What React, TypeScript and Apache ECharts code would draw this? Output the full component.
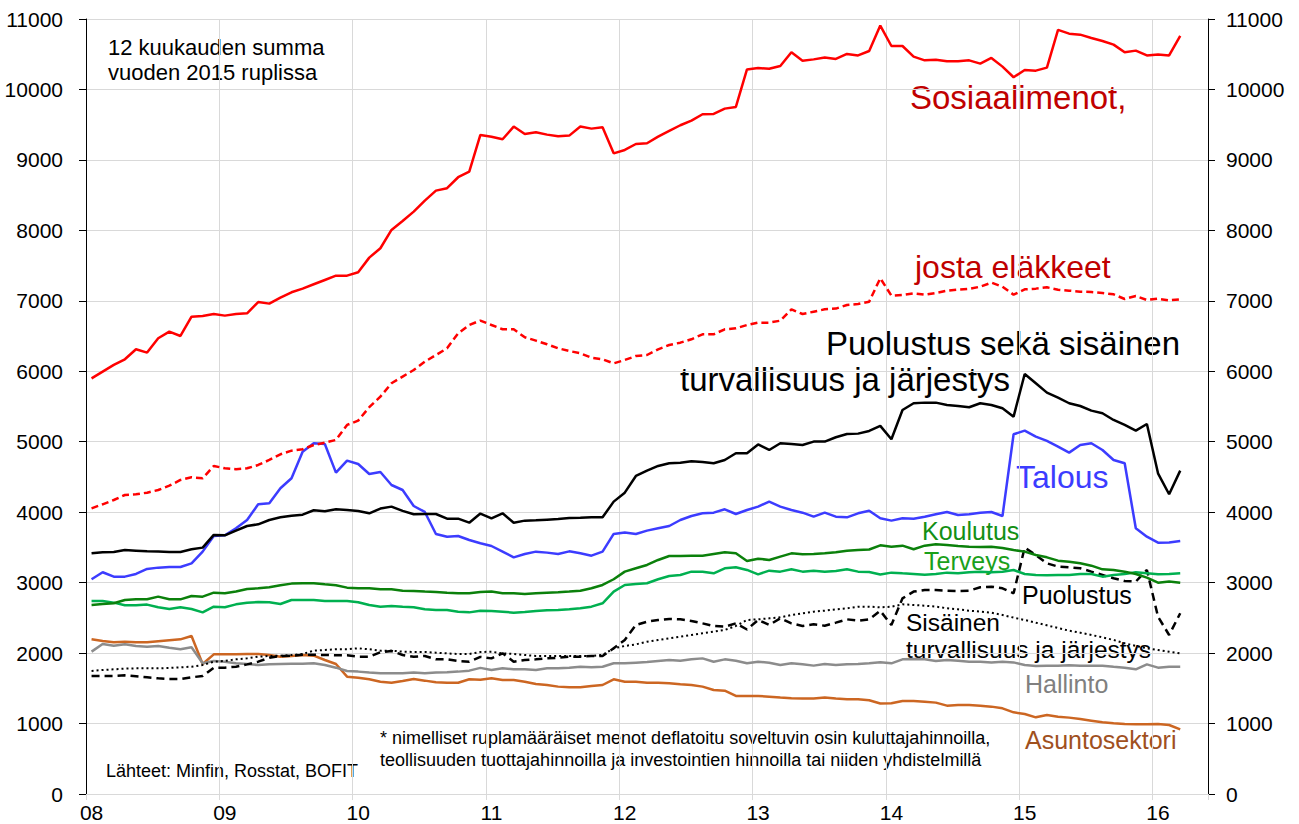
import React, { useEffect, useRef } from "react";
import * as echarts from "echarts";

// Months Jan 2008 .. May 2016 (axis), data through Mar 2016
const months: string[] = [];
for (let y = 2008; y <= 2016; y++) {
  for (let m = 1; m <= 12; m++) {
    if (y === 2016 && m > 5) break;
    months.push(`${y}-${m < 10 ? "0" + m : m}`);
  }
}

const sosiaalimenot = [
  5900, 5995, 6090, 6170, 6312, 6265, 6468, 6562, 6501, 6775, 6785, 6813,
  6790, 6813, 6823, 6983, 6960, 7045, 7121, 7173, 7235, 7296, 7357, 7357,
  7405, 7613, 7746, 8006, 8133, 8266, 8422, 8564, 8598, 8754, 8833, 9354,
  9330, 9293, 9473, 9368, 9392, 9359, 9335, 9345, 9473, 9444, 9463, 9093,
  9141, 9226, 9236, 9330, 9411, 9492, 9558, 9648, 9652, 9728, 9752, 10284,
  10303, 10294, 10332, 10527, 10409, 10427, 10455, 10433, 10504, 10483, 10546, 10906,
  10617, 10617, 10466, 10413, 10422, 10399, 10399, 10413, 10366, 10447, 10324, 10173,
  10277, 10267, 10310, 10845, 10792, 10778, 10731, 10688, 10636, 10527, 10551, 10483,
  10497, 10483, 10760,
];
const elakkeet = [
  4055, 4112, 4173, 4244, 4254, 4277, 4315, 4376, 4457, 4495, 4481, 4656,
  4623, 4609, 4623, 4670, 4741, 4822, 4873, 4893, 4954, 4986, 5025, 5238,
  5300, 5490, 5640, 5830, 5924, 6018, 6136, 6231, 6326, 6539, 6657, 6720,
  6657, 6596, 6596, 6482, 6435, 6383, 6326, 6288, 6255, 6193, 6170, 6113,
  6160, 6217, 6231, 6312, 6373, 6406, 6454, 6525, 6525, 6596, 6610, 6657,
  6690, 6690, 6718, 6879, 6813, 6846, 6879, 6890, 6941, 6955, 6988, 7320,
  7073, 7083, 7106, 7087, 7111, 7144, 7158, 7168, 7201, 7258, 7201, 7087,
  7163, 7173, 7192, 7158, 7144, 7130, 7125, 7111, 7092, 7026, 7068, 7012,
  7030, 7007, 7021,
];
const puolustusJaSisainen = [
  3417, 3432, 3436, 3463, 3454, 3445, 3441, 3436, 3436, 3474, 3497, 3677,
  3672, 3738, 3804, 3828, 3889, 3927, 3950, 3965, 4027, 4013, 4041, 4032,
  4018, 3984, 4051, 4079, 4018, 3970, 3974, 3974, 3908, 3908, 3851, 3980,
  3913, 3984, 3851, 3880, 3884, 3894, 3903, 3918, 3922, 3927, 3927, 4150,
  4277, 4514, 4590, 4656, 4694, 4703, 4722, 4713, 4694, 4741, 4836, 4836,
  4961, 4883, 4978, 4968, 4954, 5002, 5002, 5063, 5110, 5115, 5153, 5225,
  5035, 5451, 5546, 5555, 5555, 5522, 5508, 5489, 5546, 5522, 5475, 5356,
  5962, 5830, 5697, 5626, 5546, 5507, 5441, 5404, 5309, 5238, 5157, 5252,
  4552, 4254, 4590,
];
const talous = [
  3048, 3147, 3085, 3085, 3123, 3194, 3213, 3222, 3222, 3274, 3440, 3662,
  3672, 3771, 3889, 4112, 4126, 4339, 4481, 4859, 4978, 4968, 4561, 4732,
  4684, 4542, 4570, 4386, 4315, 4088, 4003, 3691, 3652, 3662, 3605, 3560,
  3520, 3440, 3359, 3407, 3440, 3426, 3407, 3444, 3416, 3383, 3440, 3691,
  3710, 3691, 3738, 3771, 3804, 3889, 3946, 3984, 3993, 4041, 3974, 4031,
  4079, 4150, 4079, 4031, 3993, 3936, 3993, 3936, 3927, 3984, 4020, 3913,
  3880, 3913, 3908, 3936, 3970, 4003, 3960, 3970, 3993, 4003, 3946, 5106,
  5157, 5073, 5011, 4931, 4845, 4954, 4978, 4883, 4741, 4694, 3771, 3652,
  3567, 3570, 3591,
];
const koulutus = [
  2683, 2697, 2707, 2754, 2763, 2763, 2801, 2763, 2763, 2811, 2801, 2858,
  2849, 2873, 2910, 2920, 2934, 2962, 2986, 2991, 2991, 2976, 2962, 2929,
  2920, 2920, 2905, 2905, 2886, 2882, 2873, 2868, 2858, 2849, 2849, 2868,
  2873, 2849, 2849, 2840, 2849, 2858, 2863, 2873, 2886, 2920, 2967, 3048,
  3156, 3204, 3251, 3322, 3378, 3378, 3383, 3383, 3407, 3431, 3416, 3307,
  3340, 3322, 3369, 3416, 3402, 3407, 3416, 3431, 3454, 3463, 3470, 3530,
  3511, 3525, 3474, 3525, 3544, 3535, 3520, 3511, 3506, 3511, 3492, 3463,
  3440, 3392, 3359, 3312, 3298, 3274, 3241, 3189, 3180, 3156, 3123, 3071,
  3000, 3015, 3000,
];
const terveys = [
  2740, 2740, 2716, 2678, 2678, 2688, 2650, 2626, 2650, 2626, 2578, 2659,
  2650, 2692, 2716, 2725, 2721, 2697, 2754, 2754, 2754, 2740, 2740, 2740,
  2721, 2683, 2659, 2669, 2659, 2650, 2621, 2612, 2612, 2588, 2578, 2600,
  2598, 2588, 2574, 2583, 2598, 2607, 2612, 2621, 2636, 2659, 2707, 2873,
  2967, 2981, 2991, 3048, 3094, 3109, 3156, 3156, 3132, 3204, 3218, 3180,
  3118, 3170, 3156, 3189, 3156, 3170, 3156, 3165, 3189, 3156, 3150, 3115,
  3142, 3132, 3123, 3113, 3123, 3142, 3132, 3146, 3156, 3146, 3156, 3180,
  3123, 3109, 3104, 3109, 3109, 3123, 3123, 3085, 3109, 3123, 3146, 3132,
  3118, 3123, 3132,
];
const puolustus = [
  1675, 1675, 1675, 1684, 1670, 1656, 1642, 1632, 1632, 1656, 1675, 1793,
  1793, 1807, 1840, 1878, 1934, 1959, 1963, 1977, 1977, 1973, 1968, 1968,
  1949, 1949, 2011, 2030, 1973, 1949, 1959, 1911, 1911, 1888, 1878, 1945,
  1925, 1996, 1878, 1902, 1911, 1925, 1934, 1949, 1949, 1959, 1959, 2068,
  2186, 2399, 2446, 2470, 2484, 2479, 2456, 2422, 2385, 2375, 2422, 2335,
  2470, 2399, 2493, 2422, 2385, 2408, 2389, 2432, 2479, 2460, 2480, 2600,
  2399, 2777, 2873, 2896, 2896, 2886, 2882, 2886, 2934, 2943, 2920, 2849,
  3497, 3392, 3274, 3228, 3218, 3204, 3156, 3109, 3062, 3023, 3015, 3180,
  2517, 2257, 2565,
];
const sisainen = [
  1746, 1760, 1770, 1779, 1784, 1784, 1784, 1789, 1798, 1807, 1831, 1878,
  1888, 1911, 1925, 1949, 1959, 1963, 1973, 1987, 2035, 2044, 2054, 2054,
  2068, 2054, 2035, 2035, 2020, 2016, 2016, 2006, 1996, 1987, 1987, 2015,
  2020, 1996, 1987, 1973, 1959, 1959, 1959, 1959, 1959, 1959, 1973, 2068,
  2101, 2124, 2162, 2186, 2210, 2233, 2257, 2281, 2304, 2328, 2385, 2470,
  2479, 2493, 2507, 2541, 2565, 2588, 2602, 2621, 2636, 2659, 2659, 2650,
  2659, 2692, 2683, 2673, 2659, 2636, 2621, 2602, 2588, 2574, 2541, 2503,
  2470, 2432, 2394, 2356, 2318, 2290, 2257, 2224, 2186, 2139, 2101, 2068,
  2044, 2020, 1996,
];
const hallinto = [
  2021, 2129, 2105, 2124, 2101, 2091, 2101, 2077, 2054, 2082, 1855, 1888,
  1878, 1855, 1845, 1831, 1840, 1845, 1850, 1850, 1855, 1831, 1793, 1746,
  1737, 1723, 1713, 1713, 1713, 1723, 1713, 1723, 1727, 1737, 1751, 1790,
  1760, 1784, 1770, 1770, 1760, 1784, 1784, 1793, 1807, 1798, 1807, 1855,
  1855, 1864, 1873, 1888, 1902, 1892, 1911, 1925, 1878, 1911, 1892, 1855,
  1878, 1864, 1831, 1855, 1840, 1822, 1845, 1831, 1840, 1845, 1855, 1870,
  1855, 1911, 1916, 1911, 1888, 1902, 1892, 1878, 1878, 1868, 1878, 1868,
  1831, 1817, 1822, 1822, 1826, 1822, 1820, 1822, 1807, 1793, 1770, 1840,
  1793, 1807, 1807,
];
const asuntosektori = [
  2195, 2172, 2153, 2162, 2153, 2153, 2167, 2181, 2195, 2243, 1845, 1982,
  1982, 1982, 1987, 1987, 1973, 1949, 1959, 1973, 1963, 1902, 1845, 1665,
  1651, 1628, 1594, 1580, 1604, 1632, 1609, 1585, 1580, 1580, 1628, 1622,
  1642, 1618, 1618, 1594, 1561, 1547, 1524, 1514, 1514, 1533, 1547, 1628,
  1594, 1594, 1580, 1580, 1571, 1557, 1547, 1524, 1476, 1467, 1391, 1391,
  1391, 1382, 1368, 1358, 1354, 1354, 1368, 1354, 1344, 1344, 1330, 1285,
  1287, 1320, 1320, 1311, 1297, 1254, 1264, 1264, 1254, 1240, 1216, 1159,
  1136, 1088, 1121, 1098, 1084, 1064, 1041, 1017, 1003, 993, 989, 989,
  993, 979, 918,
];

const FONT = "'Liberation Sans', Arial, Helvetica, sans-serif";

function txt(text: string, x: number, y: number, size: number, color: string) {
  return {
    type: "text",
    x,
    y,
    silent: true,
    style: {
      text,
      fill: color,
      fontSize: size,
      fontFamily: FONT,
      textAlign: "left",
      textVerticalAlign: "middle",
    },
  };
}

export default function App() {
  const ref = useRef<HTMLDivElement>(null);

  useEffect(() => {
    if (!ref.current) return;
    const chart = echarts.init(ref.current, undefined, { renderer: "svg" });
    const yearTick = (i: number) => i % 12 === 0;
    const line = (name: string, data: number[], color: string, type: any, width = 2.5) => ({
      name,
      type: "line",
      data,
      showSymbol: false,
      symbol: "none",
      lineStyle: { color, width, type },
      itemStyle: { color },
    });
    const yAxisBase = {
      type: "value",
      min: 0,
      max: 11000,
      interval: 1000,
      axisLine: { show: true, lineStyle: { color: "#000", width: 1 } },
      axisTick: { show: true, length: 7, lineStyle: { color: "#000", width: 1 } },
    };
    const plain = (v: number) => String(v);
    chart.setOption({
      animation: false,
      backgroundColor: "#fff",
      textStyle: { fontFamily: FONT },
      grid: { left: 86, right: 91, top: 19, bottom: 30, containLabel: false },
      xAxis: {
        type: "category",
        data: months,
        boundaryGap: true,
        axisLine: { show: true, lineStyle: { color: "#d9d9d9", width: 1 } },
        axisTick: { show: true, interval: yearTick, length: 6, lineStyle: { color: "#d9d9d9" } },
        axisLabel: {
          interval: yearTick,
          formatter: (v: string) => v.slice(2, 4),
          fontSize: 21,
          color: "#000",
          margin: 8,
          fontFamily: FONT,
        },
        splitLine: { show: true, interval: yearTick, lineStyle: { color: "#d9d9d9", width: 1 } },
      },
      yAxis: [
        {
          ...yAxisBase,
          position: "left",
          axisLabel: { fontSize: 21, color: "#000", margin: 23, fontFamily: FONT, formatter: plain },
          splitLine: { show: true, lineStyle: { color: "#d9d9d9", width: 1 } },
        },
        {
          ...yAxisBase,
          position: "right",
          axisLabel: { fontSize: 21, color: "#000", margin: 18, fontFamily: FONT, formatter: plain },
          splitLine: { show: false },
        },
      ],
      series: [
        line("Asuntosektori", asuntosektori, "#CC6622", "solid"),
        line("Hallinto", hallinto, "#8C8C8C", "solid"),
        line("Sisäinen turvallisuus ja järjestys", sisainen, "#000", [2, 3], 2),
        line("Puolustus", puolustus, "#000", [8, 5]),
        line("Terveys", terveys, "#00B050", "solid"),
        line("Koulutus", koulutus, "#0B800B", "solid"),
        line("Talous", talous, "#3C3CFF", "solid"),
        line("Puolustus sekä sisäinen turvallisuus ja järjestys", puolustusJaSisainen, "#000", "solid"),
        line("josta eläkkeet", elakkeet, "#FF0000", [7, 4]),
        line("Sosiaalimenot", sosiaalimenot, "#FF0000", "solid"),
      ],
      graphic: [
        txt("12 kuukauden summa", 108, 47, 22, "#000"),
        txt("vuoden 2015 ruplissa", 108, 72, 22, "#000"),
        txt("Sosiaalimenot,", 910, 97, 33, "#C00000"),
        txt("josta eläkkeet", 915, 267, 32, "#C00000"),
        txt("Puolustus sekä sisäinen", 826, 343, 33, "#000"),
        txt("turvallisuus ja järjestys", 680, 379, 33, "#000"),
        txt("Talous", 1016, 477, 32, "#3C3CFF"),
        txt("Koulutus", 922, 531, 25, "#138F13"),
        txt("Terveys", 924, 561, 25, "#1AA01A"),
        txt("Puolustus", 1022, 595, 25, "#000"),
        txt("Sisäinen", 906, 622, 24.5, "#000"),
        txt("turvallisuus ja järjestys", 906, 649, 24.5, "#000"),
        txt("Hallinto", 1025, 684, 25, "#808080"),
        txt("Asuntosektori", 1025, 740, 25, "#A0501E"),
        txt("* nimelliset ruplamääräiset menot deflatoitu soveltuvin osin kuluttajahinnoilla,", 380, 738, 18, "#000"),
        txt("teollisuuden tuottajahinnoilla ja investointien hinnoilla tai niiden yhdistelmillä", 380, 760, 18, "#000"),
        txt("Lähteet: Minfin, Rosstat, BOFIT", 106, 771, 18, "#000"),
      ],
    });
    return () => chart.dispose();
  }, []);

  return (
    <div
      ref={ref}
      style={{ position: "fixed", left: 0, top: 0, width: 1299, height: 824, background: "#fff" }}
    />
  );
}
